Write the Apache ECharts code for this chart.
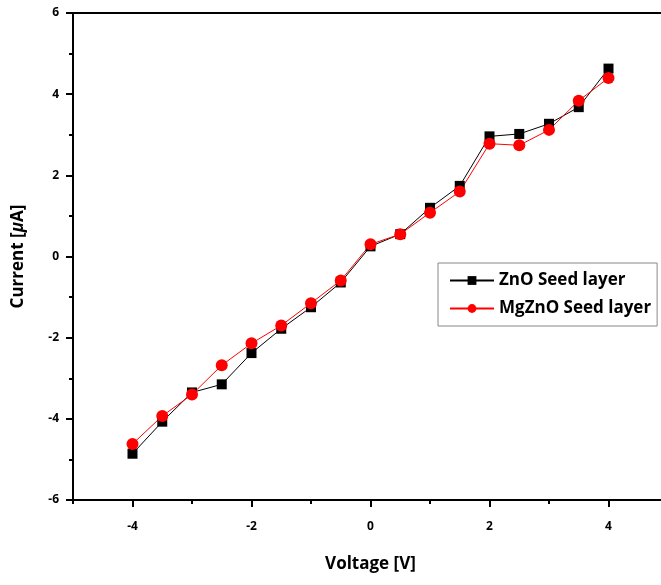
<!DOCTYPE html>
<html>
<head>
<meta charset="utf-8">
<script src="https://cdn.jsdelivr.net/npm/echarts@6/dist/echarts.min.js"></script>
<style>
html, body { margin: 0; padding: 0; background: #fff; }
#ivChart { width: 661px; height: 585px; }
</style>
</head>
<body>
<div id="ivChart"></div>
<script>
// 电压 (V)
var voltage = [-4, -3.5, -3, -2.5, -2, -1.5, -1, -0.5, 0, 0.5, 1, 1.5, 2, 2.5, 3, 3.5, 4];
// 电流 (uA)
var znoCurrent = [-4.86, -4.07, -3.35, -3.15, -2.38, -1.78, -1.25, -0.64, 0.25, 0.55, 1.2, 1.74, 2.96, 3.02, 3.27, 3.68, 4.63];
var mgznoCurrent = [-4.62, -3.93, -3.4, -2.68, -2.14, -1.7, -1.15, -0.59, 0.3, 0.55, 1.08, 1.6, 2.78, 2.74, 3.12, 3.84, 4.4];
var xMajor = [-4, -2, 0, 2, 4];
var xMinor = [-5, -3, -1, 1, 3];

var myChart = echarts.init(document.getElementById('ivChart'));

function pairs(xs, ys) {
	var out = [];
	for (var i = 0; i < xs.length; i++) {
		out.push([xs[i], ys[i]]);
	}
	return out;
}

var font = 'Open Sans';

option = {
	animation: false,
	grid: {
		left: 73,
		top: 13,
		width: 595,
		height: 487,
		outerBoundsMode: 'none',
		show: false
	},
	legend: {
		orient: 'vertical',
		left: 438,
		top: 263,
		padding: [9, 6, 9, 11],
		itemGap: 11,
		itemWidth: 44,
		itemHeight: 11,
		borderColor: '#888',
		borderWidth: 1,
		textStyle: {
			fontFamily: font,
			fontWeight: 'bold',
			fontSize: 17,
			color: '#000'
		},
		data: ['ZnO Seed layer', 'MgZnO Seed layer']
	},
	xAxis: [{
		type: 'value',
		min: -5,
		max: 5,
		interval: 1,
		position: 'bottom',
		name: 'Voltage [V]',
		nameLocation: 'middle',
		nameGap: 56,
		nameTextStyle: {
			fontFamily: font,
			fontWeight: 'bold',
			fontSize: 17,
			color: '#000'
		},
		splitLine: { show: false },
		axisLine: { show: true, onZero: false, lineStyle: { color: '#000', width: 2 } },
		axisTick: { show: true, length: 7, customValues: xMajor, lineStyle: { color: '#000', width: 2 } },
		axisLabel: {
			customValues: xMajor,
			margin: 21,
			fontFamily: font,
			fontWeight: 'bold',
			fontSize: 12,
			color: '#000'
		}
	}, {
		type: 'value',
		min: -5,
		max: 5,
		interval: 1,
		position: 'bottom',
		offset: 0,
		splitLine: { show: false },
		axisLine: { show: false, onZero: false },
		axisTick: { show: true, length: 4, customValues: xMinor, lineStyle: { color: '#000', width: 2 } },
		axisLabel: { show: false }
	}, {
		// 上边框
		type: 'value',
		min: -5,
		max: 5,
		position: 'top',
		offset: 0,
		splitLine: { show: false },
		axisLine: { show: true, onZero: false, lineStyle: { color: '#000', width: 2 } },
		axisTick: { show: false },
		axisLabel: { show: false }
	}],
	yAxis: {
		type: 'value',
		min: -6,
		max: 6,
		interval: 2,
		name: 'Current [{i|μ}A]',
		nameLocation: 'middle',
		nameGap: 46,
		nameTextStyle: {
			fontFamily: font,
			fontWeight: 'bold',
			fontSize: 17,
			color: '#000',
			rich: {
				i: { fontFamily: font, fontWeight: 'bold', fontStyle: 'italic', fontSize: 17, color: '#000' }
			}
		},
		splitLine: { show: false },
		axisLine: { show: true, onZero: false, lineStyle: { color: '#000', width: 2 } },
		axisTick: { show: true, length: 7, lineStyle: { color: '#000', width: 2 } },
		minorTick: { show: true, splitNumber: 2, length: 4, lineStyle: { color: '#000', width: 2 } },
		minorSplitLine: { show: false },
		axisLabel: {
			margin: 14,
			fontFamily: font,
			fontWeight: 'bold',
			fontSize: 12,
			color: '#000'
		}
	},
	series: [{
		name: 'ZnO Seed layer',
		type: 'line',
		xAxisIndex: 0,
		symbol: 'rect',
		symbolSize: 10,
		color: '#000',
		lineStyle: { color: '#000', width: 1 },
		itemStyle: { color: '#000' },
		data: pairs(voltage, znoCurrent)
	}, {
		name: 'MgZnO Seed layer',
		type: 'line',
		xAxisIndex: 0,
		symbol: 'circle',
		symbolSize: 12,
		color: '#f00',
		lineStyle: { color: '#f00', width: 1 },
		itemStyle: { color: '#f00' },
		data: pairs(voltage, mgznoCurrent)
	}]
};

myChart.setOption(option);
</script>
</body>
</html>
